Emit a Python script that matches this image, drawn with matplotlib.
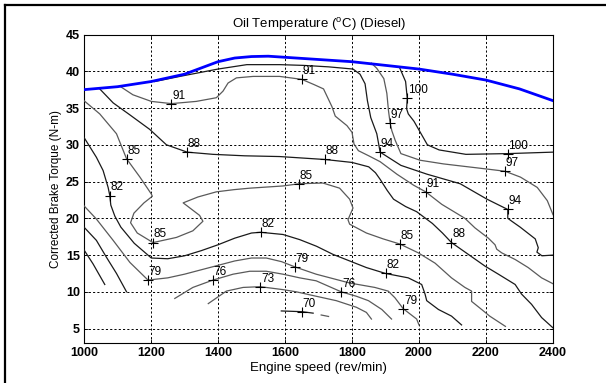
import matplotlib
matplotlib.use("Agg")
import matplotlib.pyplot as plt
from matplotlib.lines import Line2D

plt.rcParams['font.family'] = ['Liberation Sans', 'DejaVu Sans']
plt.rcParams['mathtext.fontset'] = 'custom'
plt.rcParams['mathtext.rm'] = 'Liberation Sans'

# ---------------- data (engine speed rev/min, torque N-m) ----------------
blue_x = [1000, 1100, 1200, 1300, 1400, 1450, 1500, 1550, 1600, 1700, 1800, 1900, 2000, 2100, 2200, 2300, 2400]
blue_y = [37.5, 37.9, 38.6, 39.6, 41.3, 41.8, 42.0, 42.05, 41.9, 41.6, 41.3, 40.8, 40.3, 39.6, 38.8, 37.6, 36.0]

c100_x = [1943, 1960, 1965, 1963, 1968, 1985, 2005, 2025, 2060, 2140, 2265, 2400]
c100_y = [40.4, 38.6, 36.3, 34.9, 34.2, 33.2, 31.6, 30.0, 29.3, 28.7, 28.8, 29.0]

c97_x = [1858, 1874, 1895, 1904, 1909, 1914, 1919, 1929, 1946, 2003, 2073, 2203, 2257, 2303, 2353, 2383, 2400]
c97_y = [41.1, 40.4, 39.0, 37.0, 34.6, 32.9, 31.9, 30.6, 28.8, 27.9, 27.4, 26.7, 26.4, 25.6, 24.2, 22.4, 20.5]

c94_x = [1211, 1286, 1400, 1486, 1585, 1654, 1730, 1803, 1824, 1839, 1846, 1856, 1874, 1884, 1946, 2024,
         2123, 2203, 2265, 2265, 2277, 2302, 2347, 2356, 2352, 2367, 2400]
c94_y = [38.6, 39.3, 40.3, 40.9, 40.9, 40.8, 40.6, 40.3, 39.6, 38.3, 36.0, 33.7, 31.5, 29.0, 27.2, 26.0,
         24.7, 22.6, 21.2, 20.0, 19.6, 18.8, 17.2, 16.0, 15.4, 14.9, 15.0]

c91_x = [1106, 1146, 1201, 1261, 1335, 1395, 1415, 1430, 1455, 1505, 1584, 1650, 1686, 1715, 1740, 1750, 1785,
         1800, 1806, 1819, 1850, 1884, 1934, 1984, 2020, 2068, 2137, 2167, 2207, 2227, 2232, 2247, 2287, 2326,
         2366, 2400]
c91_y = [38.0, 36.8, 35.9, 35.6, 35.9, 36.4, 37.3, 38.4, 39.1, 39.3, 39.3, 38.9, 38.2, 37.6, 35.2, 33.9, 32.6,
         31.7, 30.1, 29.2, 28.5, 27.7, 26.0, 24.5, 23.6, 21.9, 20.0, 18.7, 17.3, 16.4, 15.8, 15.3, 14.4, 13.3,
         11.9, 11.1]

c88_x = [1047, 1087, 1136, 1196, 1246, 1308, 1385, 1480, 1584, 1719, 1800, 1850, 1870, 1884, 1905, 1924, 1960,
         1993, 2040, 2070, 2097, 2147, 2197, 2237, 2287, 2306, 2336, 2366, 2400]
c88_y = [37.6, 35.7, 34.1, 32.1, 30.0, 29.0, 28.7, 28.5, 28.4, 28.0, 27.6, 27.0, 26.2, 25.3, 23.8, 22.6, 21.6,
         20.9, 19.3, 18.0, 16.7, 15.1, 13.5, 12.4, 11.0, 9.7, 8.3, 6.5, 5.1]

c85_x = [1000, 1047, 1097, 1127, 1167, 1201, 1204, 1179, 1149, 1139, 1159, 1206, 1276, 1325, 1355, 1345, 1296,
         1340, 1395, 1448, 1495, 1594, 1642, 1713, 1763, 1793, 1803, 1788, 1793, 1843, 1893, 1943, 1998, 2048,
         2097, 2137, 2157, 2157, 2187, 2211, 2258]
c85_y = [36.0, 34.2, 31.5, 28.1, 25.6, 23.3, 23.0, 22.1, 20.7, 19.4, 18.0, 16.7, 17.4, 18.3, 19.6, 20.4, 22.1,
         22.9, 23.6, 23.9, 24.1, 24.4, 24.7, 24.8, 24.1, 22.6, 21.4, 19.8, 19.2, 18.0, 17.2, 16.5, 15.3, 13.9,
         11.9, 10.6, 10.1, 8.7, 7.6, 6.7, 5.3]

c82_x = [1000, 1037, 1057, 1072, 1077, 1080, 1092, 1110, 1150, 1201, 1250, 1300, 1350, 1400, 1450, 1500, 1527,
         1594, 1644, 1694, 1743, 1793, 1843, 1900, 1968, 2008, 2018, 2023, 2058, 2097, 2127]
c82_y = [31.0, 28.3, 26.5, 24.2, 23.1, 21.8, 20.3, 18.8, 16.6, 14.6, 14.5, 14.9, 15.6, 16.4, 17.3, 18.0, 18.1,
         17.8, 17.1, 16.2, 15.1, 14.2, 13.3, 12.5, 11.9, 11.0, 9.7, 8.8, 7.6, 6.7, 5.5]

c79_x = [1000, 1037, 1087, 1137, 1191, 1250, 1300, 1350, 1400, 1450, 1500, 1544, 1590, 1629, 1693, 1793, 1868,
         1908, 1928, 1953, 1993, 2000]
c79_y = [21.7, 19.9, 17.0, 14.0, 11.6, 11.9, 12.4, 13.0, 13.6, 14.2, 14.6, 14.6, 14.1, 13.4, 12.4, 11.2, 10.6,
         10.1, 9.2, 7.7, 6.3, 5.5]

c76a_x = [1000, 1037, 1067, 1097, 1127]
c76a_y = [18.8, 17.0, 14.7, 12.5, 10.0]
c76b_x = [1271, 1325, 1385, 1445, 1495, 1544, 1594, 1644, 1693, 1768, 1813, 1849, 1889, 1918]
c76b_y = [9.1, 10.6, 11.6, 12.4, 12.8, 12.8, 12.4, 11.9, 11.5, 10.0, 9.4, 8.8, 7.6, 6.3]

c73a_x = [1000, 1027, 1047, 1062]
c73a_y = [15.7, 13.8, 12.2, 11.0]
c73b_x = [1371, 1425, 1475, 1526, 1594, 1634, 1693, 1753, 1813, 1843, 1858]
c73b_y = [8.4, 10.1, 10.6, 10.7, 10.3, 10.0, 9.4, 8.8, 7.9, 7.2, 6.3]

c70a_x = [1589, 1651, 1684]
c70a_y = [7.4, 7.3, 7.1]
c70b_x = [1708, 1730]
c70b_y = [6.85, 6.65]

# contour labels: (level, speed, torque)
label_level = [100, 100, 97, 97, 94, 94, 91, 91, 91, 88, 88, 88, 85, 85, 85, 85, 82, 82, 82, 79, 79, 79, 76, 76, 73, 70]
label_x = [1964, 2265, 1914, 2257, 1884, 2265, 1261, 1650, 2020, 1308, 1719, 2097, 1127, 1206, 1642, 1943,
           1077, 1527, 1900, 1191, 1629, 1953, 1385, 1768, 1526, 1651]
label_y = [36.3, 28.8, 32.9, 26.4, 29.0, 21.2, 35.6, 38.9, 23.6, 29.0, 28.0, 16.7, 28.1, 16.7, 24.7, 16.5,
           23.1, 18.1, 12.5, 11.6, 13.4, 7.7, 11.6, 10.0, 10.7, 7.3]

x_ticks = [1000, 1200, 1400, 1600, 1800, 2000, 2200, 2400]
y_ticks = [5, 10, 15, 20, 25, 30, 35, 40, 45]

# ---------------- figure ----------------
fig = plt.figure(figsize=(6.06, 3.83), dpi=100)
fig.patch.set_facecolor('white')
ax = fig.add_axes([84 / 606, 1 - 343.3 / 383, (553 - 84) / 606, (343.3 - 34.5) / 383])

contours = [
    (c100_x, c100_y), (c97_x, c97_y), (c94_x, c94_y), (c91_x, c91_y), (c88_x, c88_y),
    (c85_x, c85_y), (c82_x, c82_y), (c79_x, c79_y), (c76a_x, c76a_y), (c76b_x, c76b_y),
    (c73a_x, c73a_y), (c73b_x, c73b_y), (c70a_x, c70a_y), (c70b_x, c70b_y),
]
for i, (cx, cy) in enumerate(contours):
    col = '#1a1a1a' if i % 2 == 0 else '#5a5a5a'
    ax.plot(cx, cy, color=col, lw=0.9, zorder=3)

ax.plot(blue_x, blue_y, color='#0000ff', lw=2.0, zorder=4)

for lev, lx, ly in zip(label_level, label_x, label_y):
    ax.plot(lx, ly, marker='+', color='black', ms=7, mew=0.8, zorder=5)
    ax.annotate(str(lev), (lx, ly), xytext=(0.5, 1.5), textcoords='offset points',
                ha='left', va='bottom', fontsize=8.5, color='black', zorder=6)

ax.set_xlim(1000, 2400)
ax.set_ylim(3, 45)
ax.set_xticks(x_ticks)
ax.set_yticks(y_ticks)
ax.set_xticklabels([str(v) for v in x_ticks], fontweight='bold', fontsize=9)
ax.set_yticklabels([str(v) for v in y_ticks], fontweight='bold', fontsize=9)
ax.tick_params(direction='in', length=3, width=0.6, top=True, right=True, pad=3)
ax.grid(True, color='black', linestyle=(0, (2.2, 2.2)), linewidth=0.7)
for s in ax.spines.values():
    s.set_linewidth(0.8)

ax.set_title('Oil Temperature ($^{\\mathrm{o}}$C) (Diesel)', fontsize=9.5, pad=5)
ax.set_xlabel('Engine speed (rev/min)', fontsize=9.5, labelpad=2)
ax.set_ylabel('Corrected Brake Torque (N-m)', fontsize=8.5, labelpad=3)

# outer frame (top and left edges)
fig.add_artist(Line2D([5 / 606, 5 / 606], [0, 1 - 5 / 383], color='black', lw=1.6, transform=fig.transFigure))
fig.add_artist(Line2D([5 / 606, 1], [1 - 5 / 383, 1 - 5 / 383], color='black', lw=1.6, transform=fig.transFigure))

fig.savefig('out.png', dpi=100)
